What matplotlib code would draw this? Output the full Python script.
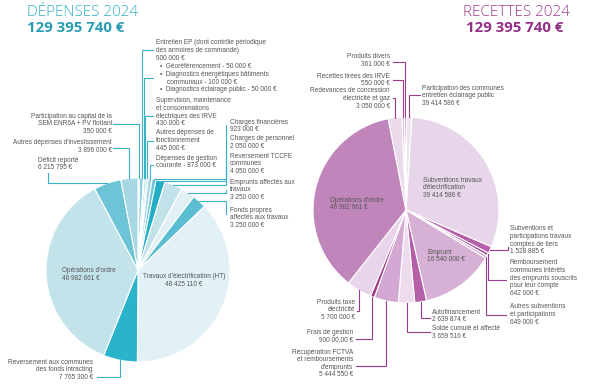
import matplotlib
matplotlib.use("Agg")
import matplotlib.pyplot as plt
import numpy as np

# --- DATA: DEPENSES (clockwise from top) ---
dep_labels = [
    "Participation au capital de la\nSEM ENR6A + PV flottant\n350 000 €",
    "Entretien EP (dont contrôle périodique\ndes armoires de commande)\n900 000 €",
    "Diagnostics",
    "Supervision, maintenance\net consommations\nélectriques des IRVE\n430 000 €",
    "Autres dépenses de\nfonctionnement\n445 000 €",
    "Dépenses de gestion\ncourante - 873 000 €",
    "Charges financières\n923 000 €",
    "Charges de personnel\n2 050 000 €",
    "Reversement TCCFE\ncommunes\n4 050 000 €",
    "Emprunts affectés aux\ntravaux\n3 250 000 €",
    "Fonds propres\naffectés aux travaux\n3 250 000 €",
    "Travaux d'électrification (HT)\n48 425 110 €",
    "Reversement aux communes\ndes fonds intracting\n7 765 300 €",
    "Opérations d'ordre\n46 982 661 €",
    "Déficit reporté\n6 215 795 €",
    "Autres dépenses d'investissement\n3 896 000 €",
]
dep_values = [350000, 900000, 200000, 430000, 445000, 873000, 923000, 2050000,
              4050000, 3250000, 3250000, 48425110, 7765300, 46982661, 6215795, 3896000]
dep_colors = ["#a9d9e4", "#8fd0de", "#c5e6ee", "#7fcadb", "#b8e0ea", "#a2d5e1",
              "#6cc4d6", "#22afc6", "#c2e2ea", "#e0f0f5", "#5bbdd2", "#e2f1f6",
              "#2ab4ca", "#c3e3eb", "#6cc4d6", "#a7d7e3"]
diag_bullets = ["•  Géoréférencement - 50 000 €",
                "•  Diagnostics énergétiques bâtiments",
                "    communaux - 100 000 €",
                "•  Diagnostics éclairage public - 50 000 €"]

# --- DATA: RECETTES (clockwise from top) ---
rec_labels = [
    "Participation des communes\nentretien éclairage public\n39 414 586 €",
    "Subventions travaux\nd'électrification\n39 414 586 €",
    "Subventions et\nparticipations travaux\ncomptes de tiers\n1 528 885 €",
    "Remboursement\ncommunes intérêts\ndes emprunts souscrits\npour leur compte\n642 000 €",
    "Autres subventions\net participations\n649 000 €",
    "Emprunt\n16 540 000 €",
    "Autofinancement\n2 639 874 €",
    "Solde cumulé et affecté\n3 659 516 €",
    "Récupération FCTVA\net remboursements\nd'emprunts\n5 444 550 €",
    "Frais de gestion\n900 00,00 €",
    "Produits taxe\nélectricité\n5 700 000 €",
    "Opérations d'ordre\n46 982 661 €",
    "Redevances de concession\nélectricité et gaz\n3 050 000 €",
    "Recettes tirées des IRVE\n550 000 €",
    "Produits divers\n361 000 €",
]
rec_values = [1333668, 39414586, 1528885, 642000, 649000, 16540000, 2639874,
              3659516, 5444550, 900000, 5700000, 46982661, 3050000, 550000, 361000]
rec_colors = ["#efe3f1", "#e7d6ea", "#b560aa", "#a0408f", "#d9b5d8", "#d6b0d5",
              "#b55fa9", "#ecdcee", "#d3a9d3", "#9e3a8f", "#e9d5eb", "#c086bc",
              "#eadaec", "#dcc2de", "#a8479b"]

# --- LAYOUT (pixel coords, y down) ---
W, H = 605, 387
TEAL, PURPLE, GREY = "#3ab2c7", "#9c3a8e", "#555555"
SMALL = dict(family=["Liberation Sans", "DejaVu Sans"], fontsize=4.7, color=GREY)
STEP = 7.6

fig = plt.figure(figsize=(W / 100, H / 100), dpi=100)
ax = fig.add_axes([0, 0, 1, 1])


def draw_pie(values, colors, cx, cy, r):
    wedges, _ = ax.pie(values, colors=colors, startangle=90, counterclock=False,
                       center=(cx, H - cy), radius=r,
                       wedgeprops=dict(linewidth=0.8, edgecolor="white"))
    anchors = []
    for w in wedges:
        t = np.deg2rad((w.theta1 + w.theta2) / 2)
        anchors.append((cx + r * np.cos(t), cy - r * np.sin(t)))
    return anchors


def text_block(x, y, text, ha="left"):
    for i, line in enumerate(text.split("\n")):
        ax.text(x, H - (y + i * STEP), line, ha=ha, va="center", **SMALL)


def leader(p, a, kind, color):
    (lx, ly), (axx, ayy) = p, a
    if kind == "hv":
        xs, ys = [lx, axx, axx], [ly, ly, ayy]
    else:
        xs, ys = [lx, lx, axx], [ly, ayy, ayy]
    ax.plot(xs, [H - y for y in ys], color=color, lw=0.8, solid_joinstyle="miter")


# --- DEPENSES ---
dep_anchor = draw_pie(dep_values, dep_colors, 138, 270, 92)
# (text x, first line y, ha, line start point, route)
dep_layout = [
    (112, 116, "right", (113, 124), "hv"),
    (156, 43, "left", (153, 50), "hv"),
    (None, None, None, (153, 78), "hv"),
    (156, 101, "left", (153, 116), "hv"),
    (156, 133, "left", (153, 141), "hv"),
    (156, 158, "left", (153, 165), "hv"),
    (230, 122, "left", (226, 125), "vh"),
    (230, 139, "left", (226, 142), "vh"),
    (230, 156, "left", (226, 164), "vh"),
    (230, 182, "left", (226, 190), "vh"),
    (230, 210, "left", (226, 214), "vh"),
    (184, 277, "center", None, None),
    (93, 362, "right", (97, 377), "hv"),
    (62, 271, "left", None, None),
    (38, 160, "left", (48, 173), "vh"),
    (112, 143, "right", (113, 148), "hv"),
]
for lab, anc, (tx, ty, ha, p, kind) in zip(dep_labels, dep_anchor, dep_layout):
    if tx is not None:
        text_block(tx, ty, lab, ha)
    if p is not None:
        leader(p, anc, kind, TEAL)
for i, line in enumerate(diag_bullets):
    ax.text(160, H - (67 + i * STEP), line, ha="left", va="center", **SMALL)

# --- RECETTES ---
rec_anchor = draw_pie(rec_values, rec_colors, 406, 210, 93)
rec_layout = [
    (422, 88, "left", (420, 95), "hv"),
    (423, 180, "left", None, None),
    (510, 229, "left", (508, 247), "vh"),
    (510, 263, "left", (506, 280), "hv"),
    (510, 307, "left", (506, 315), "hv"),
    (427, 252, "left", None, None),
    (432, 312, "left", (430, 318), "hv"),
    (432, 329, "left", (430, 332), "hv"),
    (353, 352, "right", (356, 366), "hv"),
    (353, 332, "right", (356, 339), "hv"),
    (355, 302, "right", (357, 311), "hv"),
    (330, 200, "left", None, None),
    (390, 91, "right", (393, 98), "hv"),
    (390, 76, "right", (393, 80), "hv"),
    (390, 57, "right", (393, 62), "hv"),
]
for lab, anc, (tx, ty, ha, p, kind) in zip(rec_labels, rec_anchor, rec_layout):
    if tx is not None:
        text_block(tx, ty, lab, ha)
    if p is not None:
        leader(p, anc, kind, PURPLE)

# --- TITLES ---
TITLE = dict(family=["Open Sans", "DejaVu Sans"], va="center")
ax.text(27, H - 13, "DÉPENSES 2024", color="#33b0c6", fontsize=11, weight="light", ha="left", **TITLE)
ax.text(27, H - 28, "129 395 740 €", color="#2a9db5", fontsize=10.8, weight="bold", ha="left", **TITLE)
ax.text(570, H - 13, "RECETTES 2024", color="#9b3b8d", fontsize=11, weight="light", ha="right", **TITLE)
ax.text(563, H - 28, "129 395 740 €", color="#922f86", fontsize=10.8, weight="bold", ha="right", **TITLE)

ax.set_xlim(0, W)
ax.set_ylim(0, H)
ax.set_aspect("equal")
ax.axis("off")

fig.savefig("out.png", dpi=100, facecolor="white")
